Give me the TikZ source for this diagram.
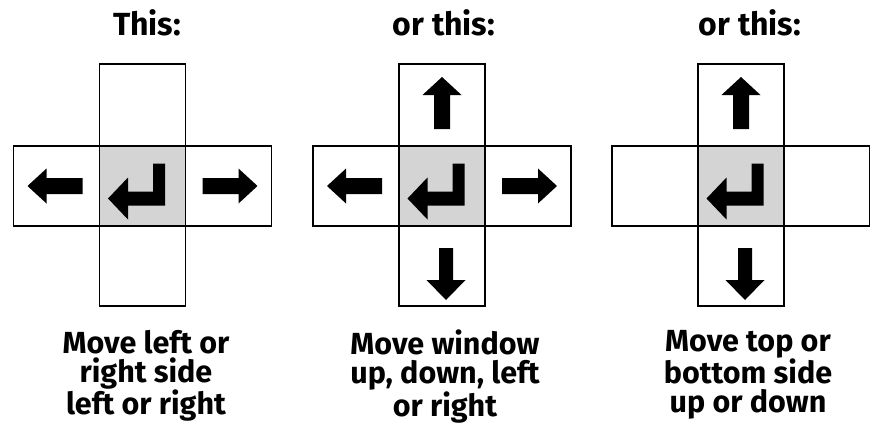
\documentclass[tikz,border=0pt]{standalone}
\usepackage{fontspec}
\setmainfont{Fira Sans}
\begin{document}
\begin{tikzpicture}[x=1pt,y=-1pt,
  keybox/.style={draw=black,line width=1.6pt,minimum width=86pt,minimum height=80pt,inner sep=0pt,outer sep=0pt},
  shaded/.style={keybox,fill=black!17},
  title/.style={font=\bfseries\fontsize{32}{29}\selectfont,anchor=base},
  caption/.style={font=\bfseries\fontsize{30.5}{29}\selectfont,align=center,anchor=north,inner sep=0pt}
]
\useasboundingbox (0,0) rectangle (870,424);
\tikzset{
  larrow/.pic={\fill (-29,0) -- (-10,-17.5) -- (-10,-8) -- (26,-8) -- (26,8) -- (-10,8) -- (-10,17.5) -- cycle;},
  rarrow/.pic={\fill (29,0) -- (10,-17.5) -- (10,-8) -- (-26,-8) -- (-26,8) -- (10,8) -- (10,17.5) -- cycle;},
  uarrow/.pic={\fill (0,-28) -- (-19.5,-10) -- (-8,-10) -- (-8,24) -- (8,24) -- (8,-10) -- (19.5,-10) -- cycle;},
  darrow/.pic={\fill (0,34) -- (-19.5,14) -- (-7,14) -- (-7,-18) -- (7,-18) -- (7,14) -- (19.5,14) -- cycle;},
  retarrow/.pic={\fill (-34.5,12.5) -- (-14.5,-8.5) -- (-14.5,5.5) -- (10.5,5.5) -- (10.5,-22.5) -- (22.5,-22.5) -- (22.5,19.5) -- (-14.5,19.5) -- (-14.5,33.5) -- cycle;}
}
% Panel 1
\node[title] (t1) at (147,35) {This:};
\node[keybox,minimum height=82pt] (p1t) at (142.5,105) {};
\node[shaded] (p1c) at (142.5,186) {};
\node[keybox] (p1l) at (56.5,186) {};
\node[keybox] (p1r) at (228.5,186) {};
\node[keybox] (p1b) at (142.5,266) {};
\pic at (p1l.center) {larrow};
\pic at (p1r.center) {rarrow};
\pic at (p1c.center) {retarrow};
\node[caption] (c1) at (146,330) {Move left or\\right side\\left or right};
% Panel 2
\node[title] (t2) at (444,35) {or this:};
\node[keybox,minimum height=82pt] (p2t) at (442,105) {};
\node[shaded] (p2c) at (442,186) {};
\node[keybox] (p2l) at (356,186) {};
\node[keybox] (p2r) at (528,186) {};
\node[keybox] (p2b) at (442,266) {};
\pic at (p2t.center) {uarrow};
\pic at ([xshift=4pt]p2b.center) {darrow};
\pic at (p2l.center) {larrow};
\pic at (p2r.center) {rarrow};
\pic at (p2c.center) {retarrow};
\node[caption] (c2) at (445,330) {Move window\\up, down, left\\or right};
% Panel 3
\node[title] (t3) at (750,35) {or this:};
\node[keybox,minimum height=82pt] (p3t) at (741,105) {};
\node[shaded] (p3c) at (741,186) {};
\node[keybox] (p3l) at (655,186) {};
\node[keybox] (p3r) at (827,186) {};
\node[keybox] (p3b) at (741,266) {};
\pic at (p3t.center) {uarrow};
\pic at ([xshift=4pt]p3b.center) {darrow};
\pic at (p3c.center) {retarrow};
\node[caption] (c3) at (748,330) {Move top or\\bottom side\\up or down};
\end{tikzpicture}
\end{document}
